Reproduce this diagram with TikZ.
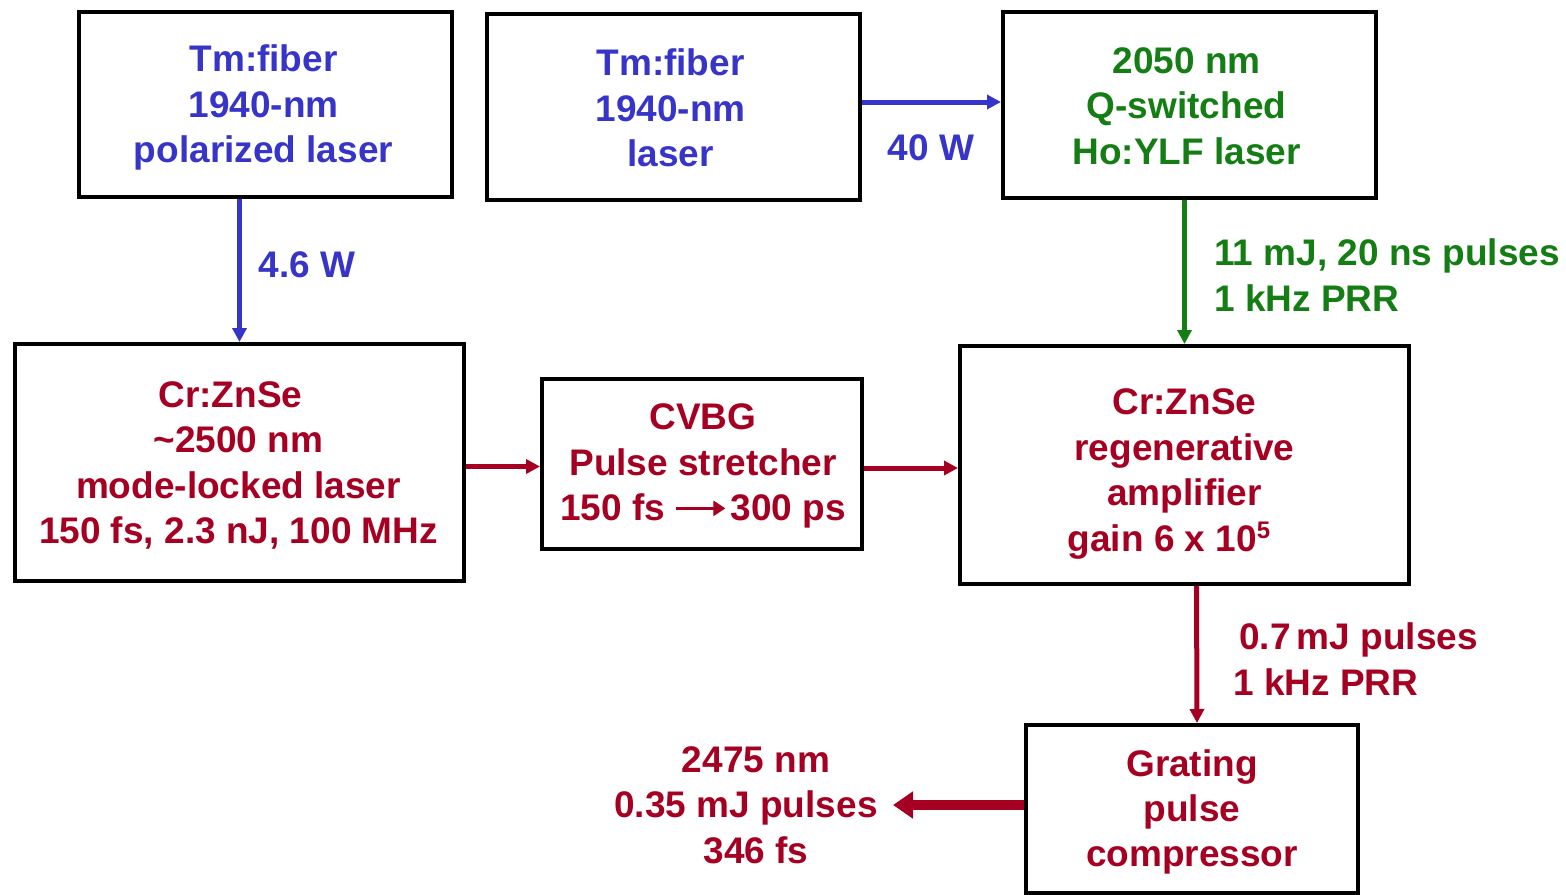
\documentclass[tikz,border=0pt]{standalone}
\usepackage{fontspec}
\setmainfont{Liberation Sans}
\usetikzlibrary{arrows.meta,calc}
\definecolor{tblue}{RGB}{55,52,200}
\definecolor{tgreen}{RGB}{20,125,20}
\definecolor{tred}{RGB}{165,0,33}
\newcommand{\smallarrow}{\tikz[baseline=-0.62ex,x=1pt,y=1pt]\draw[line width=1.3pt,-{Triangle[length=6pt,width=7.5pt]},tred] (0,0)--(24.5,0);}
\begin{document}
\begin{tikzpicture}[x=0.5pt,y=-0.5pt,
  box/.style={draw=black,line width=2pt,rectangle,inner sep=0pt},
  lbl/.style={inner sep=0pt,align=center,font=\bfseries\fontsize{18.5}{22.7}\selectfont},
  conn/.style={line width=2.5pt,-{Triangle[length=7pt,width=7pt]}},
  bigconn/.style={line width=5pt,-{Triangle[length=10pt,width=13pt]}}]
\useasboundingbox (0,0) rectangle (1566,894);
% boxes
\node[box,minimum width=186.5pt,minimum height=92.5pt] (n1) at (265.5,104.5) {};
\node[box,minimum width=186.5pt,minimum height=93pt] (n2) at (673.5,107) {};
\node[box,minimum width=186.5pt,minimum height=93pt] (n3) at (1189.5,105) {};
\node[box,minimum width=224.5pt,minimum height=118.5pt] (n4) at (239.5,462.5) {};
\node[box,minimum width=160pt,minimum height=85pt] (n5) at (702,464) {};
\node[box,minimum width=224.5pt,minimum height=119pt] (n6) at (1184.5,465) {};
\node[box,minimum width=166pt,minimum height=84pt] (n7) at (1192,809) {};
% box texts
\node[lbl,text=tblue] (t1) at ($(n1)+(-2,3)$) {Tm:fiber\\1940-nm\\polarized laser};
\node[lbl,text=tblue] (t2) at ($(n2)+(-3,1)$) {Tm:fiber\\1940-nm\\laser};
\node[lbl,text=tgreen] (t3) at ($(n3)+(-3,1)$) {2050 nm\\Q-switched\\Ho:YLF laser};
\node[lbl,text=tred] (t4) at ($(n4)+(-1,3)$) {\hspace*{-8pt}Cr:ZnSe\\\textasciitilde2500 nm\\mode-locked laser\\150 fs, 2.3 nJ, 100 MHz};
\node[lbl,text=tred] (t5) at ($(n5)+(1,2)$) {CVBG\\Pulse stretcher\\150 fs\hspace{5pt}\smallarrow\hspace{2pt}300 ps};
\node[lbl,text=tred] (t6) at ($(n6)+(0,9)$) {Cr:ZnSe\\regenerative\\amplifier\\gain 6 x 10\textsuperscript{\fontsize{12}{12}\selectfont 5}\hspace*{15pt}};
\node[lbl,text=tred] (t7) at ($(n7)+(0,3)$) {Grating\\pulse\\compressor};
\coordinate (outpt) at (893,805);
% connectors
\draw[conn,tblue] (n4.north |- n1.south) -- (n4.north);
\draw[conn,tblue] ($(n2.east)+(0,-5)$) -- ($(n3.west)+(0,-3)$);
\draw[conn,tgreen] (n6.north |- n3.south) -- (n6.north);
\draw[conn,tred] ($(n4.east)+(0,4)$) -- ($(n4.east -| n5.west)+(0,4)$);
\draw[conn,tred] ($(n5.east)+(0,4)$) -- ($(n5.east -| n6.west)+(0,4)$);
\draw[conn,tred] ($(n6.south)+(12,0)$) -- ($(n7.north)+(5,0)$);
\draw[bigconn,tred] (n7.west |- outpt) -- (outpt);
% labels
\node[lbl,text=tblue] (l1) at (307,265) {4.6 W};
\node[lbl,text=tblue] (l2) at (931,148) {40 W};
\node[lbl,text=tgreen,anchor=west,align=left] (l3) at (1214,275) {11 mJ, 20 ns pulses\\1 kHz PRR};
\node[lbl,text=tred,anchor=west,align=left] (l4) at (1233,659) {\hspace*{3pt}0.7\,mJ pulses\\1 kHz PRR};
\node[lbl,text=tred] (l5) at (746,805) {\hspace*{10pt}2475 nm\\0.35 mJ pulses\\\hspace*{10pt}346 fs};
\end{tikzpicture}
\end{document}
